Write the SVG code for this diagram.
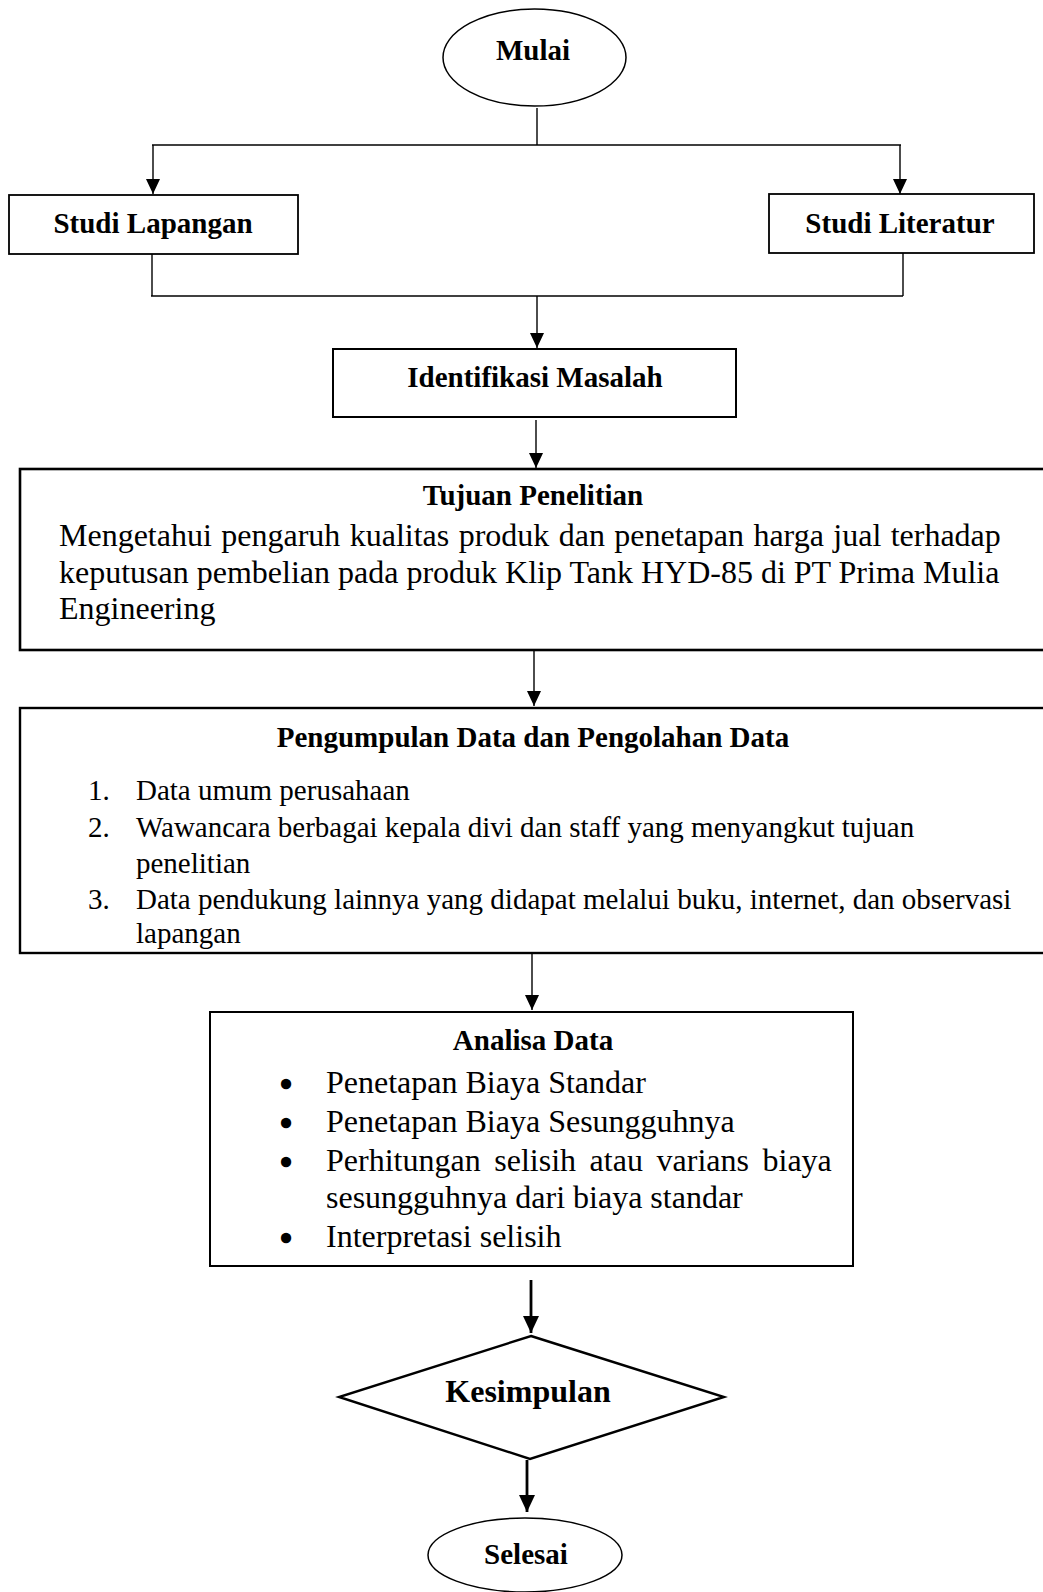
<svg xmlns="http://www.w3.org/2000/svg" width="1043" height="1592" viewBox="0 0 1043 1592">
<style>
  text { font-family: "Liberation Serif", "Times New Roman", serif; fill: #000; }
  .b { font-weight: bold; font-size: 29px; text-anchor: middle; }
  .body { font-size: 32px; }
  .list { font-size: 29px; }
  .bul { font-size: 33px; text-anchor: middle; stroke: #000; stroke-width: 2.4; }
  .shape { fill: #fff; stroke: #000; }
  .ln { fill: none; stroke: #000; stroke-width: 1.4; }
  .lnb { fill: none; stroke: #000; stroke-width: 2.8; }
</style>
<defs>
  <marker id="ah" markerUnits="userSpaceOnUse" markerWidth="14" markerHeight="16" refX="7" refY="15" viewBox="0 0 14 16">
    <path d="M0,0 L14,0 L7,15 Z" fill="#000"/>
  </marker>
  <marker id="ahb" markerUnits="userSpaceOnUse" markerWidth="16" markerHeight="18" refX="8" refY="17" viewBox="0 0 16 18">
    <path d="M0,0 L16,0 L8,17 Z" fill="#000"/>
  </marker>
  <clipPath id="clipP"><rect x="20" y="708" width="1030" height="242"/></clipPath>
</defs>

<g id="connectors">
  <line class="ln" x1="537" y1="108" x2="537" y2="145"/>
  <line class="ln" x1="152" y1="145" x2="901" y2="145"/>
  <line class="ln" x1="153" y1="145" x2="153" y2="194" marker-end="url(#ah)"/>
  <line class="ln" x1="900" y1="145" x2="900" y2="194" marker-end="url(#ah)"/>
  <line class="ln" x1="152" y1="254" x2="152" y2="296"/>
  <line class="ln" x1="903" y1="253" x2="903" y2="296"/>
  <line class="ln" x1="151" y1="296" x2="903" y2="296"/>
  <line class="ln" x1="537" y1="296" x2="537" y2="348" marker-end="url(#ah)"/>
  <line class="ln" x1="536" y1="420" x2="536" y2="468" marker-end="url(#ah)"/>
  <line class="ln" x1="534" y1="650" x2="534" y2="706" marker-end="url(#ah)"/>
  <line class="ln" x1="532" y1="953" x2="532" y2="1010" marker-end="url(#ah)"/>
  <line class="lnb" x1="531" y1="1280" x2="531" y2="1333" marker-end="url(#ahb)"/>
  <line class="lnb" x1="527" y1="1460" x2="527" y2="1512" marker-end="url(#ahb)"/>
</g>

<g id="mulai">
  <ellipse class="shape" cx="534.5" cy="57.5" rx="91.5" ry="48.5" stroke-width="1.5"/>
  <text class="b" x="533" y="60">Mulai</text>
</g>

<g id="studi-lapangan">
  <rect class="shape" x="9" y="195" width="289" height="59" stroke-width="1.8"/>
  <text class="b" x="153" y="233">Studi Lapangan</text>
</g>

<g id="studi-literatur">
  <rect class="shape" x="769" y="194" width="265" height="59" stroke-width="1.8"/>
  <text class="b" x="900" y="233">Studi Literatur</text>
</g>

<g id="identifikasi-masalah">
  <rect class="shape" x="333" y="349" width="403" height="68" stroke-width="2"/>
  <text class="b" x="535" y="387">Identifikasi Masalah</text>
</g>

<g id="tujuan-penelitian">
  <rect class="shape" x="20" y="469" width="1040" height="181" stroke-width="2.6"/>
  <text class="b" x="533" y="505">Tujuan Penelitian</text>
  <text class="body" x="59" y="546" word-spacing="1.4">Mengetahui pengaruh kualitas produk dan penetapan harga jual terhadap</text>
  <text class="body" x="59" y="583">keputusan pembelian pada produk Klip Tank HYD-85 di PT Prima Mulia</text>
  <text class="body" x="59" y="619">Engineering</text>
</g>

<g id="pengumpulan-data">
  <rect class="shape" x="20" y="708" width="1040" height="245" stroke-width="2.4"/>
  <text class="b" x="533" y="747">Pengumpulan Data dan Pengolahan Data</text>
  <g clip-path="url(#clipP)">
    <text class="list" x="88" y="800">1.</text>
    <text class="list" x="136" y="800">Data umum perusahaan</text>
    <text class="list" x="88" y="837">2.</text>
    <text class="list" x="136" y="837">Wawancara berbagai kepala divi dan staff yang menyangkut tujuan</text>
    <text class="list" x="136" y="873">penelitian</text>
    <text class="list" x="88" y="909">3.</text>
    <text class="list" x="136" y="909">Data pendukung lainnya yang didapat melalui buku, internet, dan observasi</text>
    <text class="list" x="136" y="943">lapangan</text>
  </g>
</g>

<g id="analisa-data">
  <rect class="shape" x="210" y="1012" width="643" height="254" stroke-width="2"/>
  <text class="b" x="533" y="1050">Analisa Data</text>
  <text class="bul" x="286" y="1096">•</text>
  <text class="body" x="326" y="1093">Penetapan Biaya Standar</text>
  <text class="bul" x="286" y="1135">•</text>
  <text class="body" x="326" y="1132">Penetapan Biaya Sesungguhnya</text>
  <text class="bul" x="286" y="1174">•</text>
  <text class="body" x="326" y="1171" word-spacing="5.6">Perhitungan selisih atau varians biaya</text>
  <text class="body" x="326" y="1208">sesungguhnya dari biaya standar</text>
  <text class="bul" x="286" y="1250">•</text>
  <text class="body" x="326" y="1247">Interpretasi selisih</text>
</g>

<g id="kesimpulan">
  <polygon class="shape" points="531,1336 724,1397 530,1459 339,1397" stroke-width="2.4"/>
  <text class="b" x="528" y="1402" style="font-size:32px">Kesimpulan</text>
</g>

<g id="selesai">
  <ellipse class="shape" cx="525" cy="1555" rx="97" ry="37" stroke-width="1.5"/>
  <text class="b" x="526" y="1564">Selesai</text>
</g>
</svg>
